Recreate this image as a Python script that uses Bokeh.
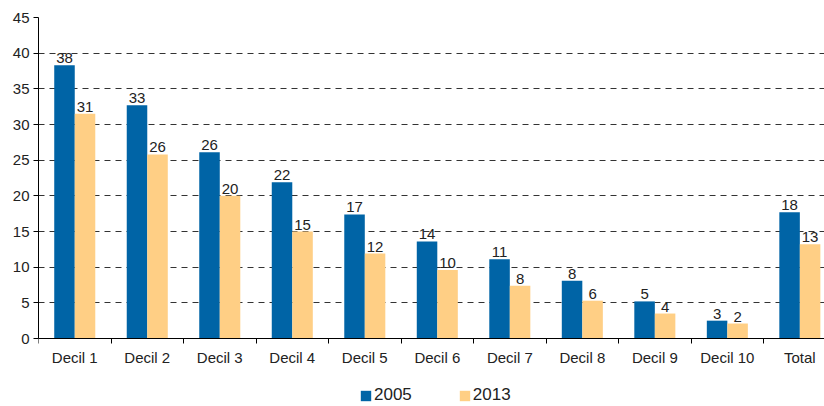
import numpy as np
from bokeh.plotting import figure
from bokeh.models import (ColumnDataSource, Range1d, FixedTicker, Legend, LegendItem)
from bokeh.transform import dodge
from bokeh.core.properties import value
from bokeh.embed import file_html
from bokeh.resources import INLINE

categories = ["Decil 1", "Decil 2", "Decil 3", "Decil 4", "Decil 5", "Decil 6",
              "Decil 7", "Decil 8", "Decil 9", "Decil 10", "Total"]
series_names = ["2005", "2013"]
values_2005 = [38.3, 32.7, 26.1, 21.9, 17.4, 13.6, 11.1, 8.1, 5.2, 2.5, 17.7]
values_2013 = [31.5, 25.8, 20.0, 15.0, 11.9, 9.6, 7.4, 5.3, 3.5, 2.1, 13.2]
labels_2005 = ["38", "33", "26", "22", "17", "14", "11", "8", "5", "3", "18"]
labels_2013 = ["31", "26", "20", "15", "12", "10", "8", "6", "4", "2", "13"]
y_ticks = [0, 5, 10, 15, 20, 25, 30, 35, 40, 45]

FONT = "Liberation Sans"
BLUE = "#0064A6"
YELLOW = "#FFCF85"
TXT = "#222222"

idx = np.arange(len(categories))
src = ColumnDataSource(dict(
    x=idx + 0.5,
    v2005=values_2005, v2013=values_2013,
    l2005=labels_2005, l2013=labels_2013,
))

# frame spans the whole height below the top border; the value axis runs 0..45
# over 321 px, the remaining 68 px below zero hold the category labels and legend
Y_MAX = 45
y_min = -Y_MAX * 68 / 321

p = figure(width=824, height=406, output_backend="svg", toolbar_location=None,
           x_range=Range1d(0, 10.84), y_range=Range1d(y_min, Y_MAX),
           min_border_left=38, min_border_right=0, min_border_top=17,
           min_border_bottom=0)
p.outline_line_color = None
p.background_fill_color = "white"
p.border_fill_color = "white"

bw = 0.283
r1 = p.vbar(x=dodge("x", -bw / 2, range=p.x_range), top="v2005", width=bw,
            source=src, fill_color=BLUE, line_color=None)
r2 = p.vbar(x=dodge("x", bw / 2, range=p.x_range), top="v2013", width=bw,
            source=src, fill_color=YELLOW, line_color=None)

for col, lab in (("v2005", "l2005"), ("v2013", "l2013")):
    off = -bw / 2 if col == "v2005" else bw / 2
    p.text(x=dodge("x", off, range=p.x_range), y=col, text=lab, source=src,
           text_align="center", text_baseline="bottom", y_offset=-2,
           text_font=value(FONT), text_font_size="15px", text_color=TXT)

# y axis
p.yaxis.ticker = FixedTicker(ticks=y_ticks)
p.yaxis.bounds = (0, Y_MAX)
p.yaxis.major_tick_out = 5
p.yaxis.major_tick_in = 0
p.yaxis.minor_tick_line_color = None
p.yaxis.major_label_standoff = 4
p.yaxis.axis_line_color = "black"
p.yaxis.major_tick_line_color = "black"
p.yaxis.major_label_text_font = FONT
p.yaxis.major_label_text_font_size = "15px"
p.yaxis.major_label_text_color = TXT

# x axis at y=0: labels at category centres, tick marks at boundaries
p.xaxis.fixed_location = 0
p.xaxis.ticker = FixedTicker(ticks=list(idx + 0.5),
                             minor_ticks=list(range(len(categories) + 1)))
p.xaxis.major_label_overrides = {float(i + 0.5): c for i, c in enumerate(categories)}
p.xaxis.major_tick_line_color = None
p.xaxis.major_tick_out = 0
p.xaxis.major_tick_in = 0
p.xaxis.minor_tick_out = 5
p.xaxis.minor_tick_in = 0
p.xaxis.minor_tick_line_color = "black"
p.xaxis.axis_line_color = "black"
p.xaxis.major_label_standoff = 5
p.xaxis.major_label_text_font = FONT
p.xaxis.major_label_text_font_size = "15px"
p.xaxis.major_label_text_color = TXT

p.xgrid.grid_line_color = None
p.ygrid.grid_line_color = "#333333"
p.ygrid.grid_line_dash = "6 5"
p.ygrid.grid_line_width = 1

legend = Legend(items=[LegendItem(label=series_names[0], renderers=[r1]),
                       LegendItem(label=series_names[1], renderers=[r2])],
                location=(321, 1), orientation="horizontal",
                glyph_width=13, glyph_height=13, label_height=13,
                label_standoff=2, spacing=46, padding=0, margin=0,
                border_line_color=None, background_fill_alpha=0,
                label_text_font=FONT, label_text_font_size="17px",
                label_text_color=TXT)
p.add_layout(legend)

open("out.html", "w").write(file_html(p, INLINE))
